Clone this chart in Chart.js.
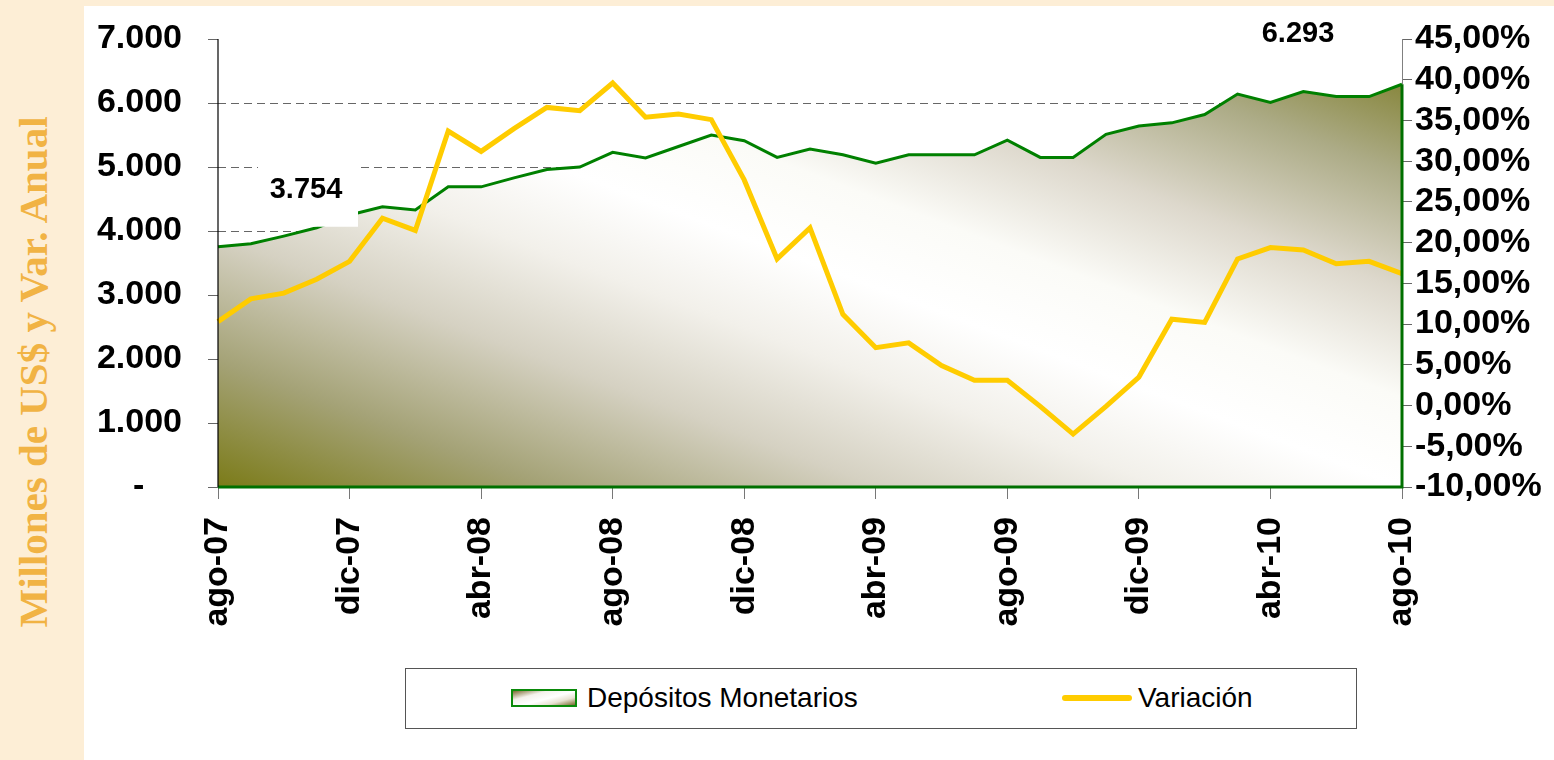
<!DOCTYPE html>
<html>
<head>
<meta charset="utf-8">
<script src="https://cdn.jsdelivr.net/npm/chart.js@4.4.1/dist/chart.umd.min.js"></script>
<style>
  html, body { margin: 0; padding: 0; }
  body { width: 1554px; height: 760px; background: #fdeed6; position: relative; overflow: hidden;
         font-family: "Liberation Sans", Arial, sans-serif; }
  #panel { position: absolute; left: 84px; top: 6px; right: 0; bottom: 0; background: #fff; }
  #c { position: absolute; left: 84px; top: 6px; }
  #title { position: absolute; left: 33px; top: 372px; transform: translate(-50%, -50%) rotate(-90deg);
           white-space: nowrap; font: bold 41px "Liberation Serif", "Times New Roman", serif; color: #f1b344; }
  #legend { position: absolute; left: 405px; top: 668px; width: 950px; height: 59px;
            border: 1px solid #555; background: #fff; }
  .item { position: absolute; top: 12px; font-size: 28px; line-height: 34px; color: #000; white-space: nowrap; }
  .swatch { display: inline-block; width: 62px; height: 14px; border: 2.5px solid #0a8a0a; vertical-align: middle;
            margin-right: 10px; position: relative; top: -2px;
            background: linear-gradient(165deg, #7a6a30 0%, #f4f2ec 30%, #ffffff 55%, #e8e2d2 75%, #7a6a30 100%); }
  .lineSw { display: inline-block; width: 70px; height: 6px; border-radius: 3px; background: #ffcc00;
            vertical-align: middle; margin-right: 6px; position: relative; top: -2px; }
</style>
</head>
<body>
<div id="panel"></div>
<div id="title">Millones de US$ y Var. Anual</div>
<canvas id="c" width="1470" height="654"></canvas>
<div id="legend">
  <div class="item" style="left:105px"><span class="swatch"></span>Depósitos Monetarios</div>
  <div class="item" style="left:656px"><span class="lineSw"></span>Variación</div>
</div>
<script>
const months = ['ago-07','sep-07','oct-07','nov-07','dic-07','ene-08','feb-08','mar-08','abr-08','may-08',
  'jun-08','jul-08','ago-08','sep-08','oct-08','nov-08','dic-08','ene-09','feb-09','mar-09','abr-09',
  'may-09','jun-09','jul-09','ago-09','sep-09','oct-09','nov-09','dic-09','ene-10','feb-10','mar-10',
  'abr-10','may-10','jun-10','jul-10','ago-10'];

// millones de US$
const depositos = [3754, 3800, 3920, 4050, 4250, 4380, 4330, 4690, 4690, 4830, 4960, 5000, 5230,
  5140, 5320, 5500, 5410, 5150, 5280, 5190, 5060, 5190, 5190, 5190, 5420, 5150, 5150, 5510, 5640,
  5690, 5820, 6140, 6010, 6180, 6100, 6100, 6293];

// variación anual, %
const variacion = [10.3, 13.1, 13.8, 15.5, 17.7, 23.0, 21.5, 33.7, 31.2, 34.0, 36.6, 36.2, 39.6,
  35.4, 35.8, 35.1, 27.7, 18.0, 21.8, 11.2, 7.1, 7.7, 4.9, 3.1, 3.1, -0.1, -3.5, -0.1, 3.5, 10.6,
  10.2, 18.0, 19.4, 19.1, 17.4, 17.7, 16.2];

const leftMin = 0, leftMax = 7000, leftStep = 1000;
const rightMin = -10, rightMax = 45, rightStep = 5;

const FONT = '"Liberation Sans", Arial, sans-serif';

function miles(v) {
  return String(Math.round(v)).replace(/\B(?=(\d{3})+(?!\d))/g, '.');
}

function areaGradient(context) {
  const a = context.chart.chartArea;
  if (!a) return '#ddd';
  const W = a.right - a.left, H = a.bottom - a.top;
  const k = 2 * W * H / (W * W + H * H);
  const g = context.chart.ctx.createLinearGradient(a.left, a.bottom, a.left + H * k, a.bottom - W * k);
  g.addColorStop(0, '#7b7b18');
  g.addColorStop(0.14, '#a4a276');
  g.addColorStop(0.28, '#d5d1c2');
  g.addColorStop(0.4, '#f2f0ea');
  g.addColorStop(0.5, '#ffffff');
  g.addColorStop(0.6, '#fbfbf7');
  g.addColorStop(0.72, '#ddd8cc');
  g.addColorStop(0.85, '#acab86');
  g.addColorStop(0.95, '#88873e');
  g.addColorStop(1, '#7b7b18');
  return g;
}

// axis lines drawn over the fill, like the original
const axisLines = {
  id: 'axisLines',
  afterDatasetsDraw(chart) {
    const ctx = chart.ctx, a = chart.chartArea;
    const pts = chart.getDatasetMeta(0).data;
    const last = pts[pts.length - 1];
    ctx.save();
    ctx.strokeStyle = '#808080';
    ctx.lineWidth = 1;
    ctx.beginPath();
    ctx.moveTo(a.right + 0.5, a.top);
    ctx.lineTo(a.right + 0.5, last.y);
    ctx.stroke();
    ctx.strokeStyle = '#007000';
    ctx.lineWidth = 3;
    ctx.beginPath();
    ctx.moveTo(a.right, last.y);
    ctx.lineTo(a.right, a.bottom);
    ctx.lineTo(a.left, a.bottom);
    ctx.stroke();
    ctx.strokeStyle = '#000';
    ctx.lineWidth = 1.2;
    ctx.beginPath();
    ctx.moveTo(a.left, a.top);
    ctx.lineTo(a.left, a.bottom);
    ctx.stroke();
    ctx.restore();
  }
};

// first and last values
const endLabels = {
  id: 'endLabels',
  afterDatasetsDraw(chart) {
    const ctx = chart.ctx;
    const pts = chart.getDatasetMeta(0).data;
    const first = pts[0], last = pts[pts.length - 1];
    ctx.save();
    ctx.font = 'bold 29px ' + FONT;
    ctx.textAlign = 'center';
    ctx.textBaseline = 'middle';
    const fx = first.x + 88, fy = first.y - 57;
    ctx.fillStyle = '#fff';
    ctx.fillRect(fx - 48, fy - 33, 100, 70);
    ctx.fillStyle = '#000';
    ctx.fillText(miles(depositos[0]), fx, fy);
    ctx.fillText(miles(depositos[depositos.length - 1]), last.x - 104, last.y - 50);
    ctx.restore();
  }
};

new Chart(document.getElementById('c'), {
  type: 'line',
  data: {
    labels: months,
    datasets: [{
      label: 'Depósitos Monetarios',
      data: depositos,
      yAxisID: 'y',
      borderColor: '#008000',
      borderWidth: 3,
      backgroundColor: areaGradient,
      fill: 'origin',
      pointRadius: 0,
      tension: 0,
      order: 1
    }, {
      label: 'Variación',
      data: variacion,
      yAxisID: 'y1',
      borderColor: '#ffcc00',
      borderWidth: 5,
      fill: false,
      pointRadius: 0,
      tension: 0,
      order: 0
    }]
  },
  options: {
    responsive: false,
    animation: false,
    layout: { padding: { top: 33, left: 0, right: 0, bottom: 0 } },
    plugins: { legend: { display: false }, tooltip: { enabled: false } },
    scales: {
      x: {
        afterFit: s => { s.height = 173; },
        grid: {
          drawOnChartArea: false,
          tickLength: 12,
          tickColor: c => c.index % 4 === 0 ? '#777' : 'rgba(0,0,0,0)'
        },
        border: { display: false },
        ticks: {
          autoSkip: false,
          maxRotation: 90,
          minRotation: 90,
          padding: 18,
          color: '#000',
          font: { family: FONT, size: 34, weight: 'bold' },
          callback: (v, i) => i % 4 === 0 ? months[i] : ''
        }
      },
      y: {
        position: 'left',
        min: leftMin,
        max: leftMax,
        afterFit: s => { s.width = 134; },
        grid: {
          color: c => (c.tick.value === leftMin || c.tick.value === leftMax) ? 'rgba(0,0,0,0)' : '#666',
          tickColor: '#666',
          tickLength: 10
        },
        border: { display: false, dash: [8, 5] },
        ticks: {
          stepSize: leftStep,
          autoSkip: false,
          padding: 26,
          color: '#000',
          font: { family: FONT, size: 34, weight: 'bold', lineHeight: 0.4 },
          callback: v => v === 0 ? '-    ' : miles(v)
        }
      },
      y1: {
        position: 'right',
        min: rightMin,
        max: rightMax,
        afterFit: s => { s.width = 152; },
        grid: { drawOnChartArea: false, tickColor: '#666', tickLength: 10 },
        border: { display: false },
        ticks: {
          stepSize: rightStep,
          autoSkip: false,
          padding: 3,
          color: '#000',
          font: { family: FONT, size: 34, weight: 'bold', lineHeight: 0.4 },
          callback: v => v.toFixed(2).replace('.', ',') + '%'
        }
      }
    }
  },
  plugins: [axisLines, endLabels]
});
</script>
</body>
</html>
